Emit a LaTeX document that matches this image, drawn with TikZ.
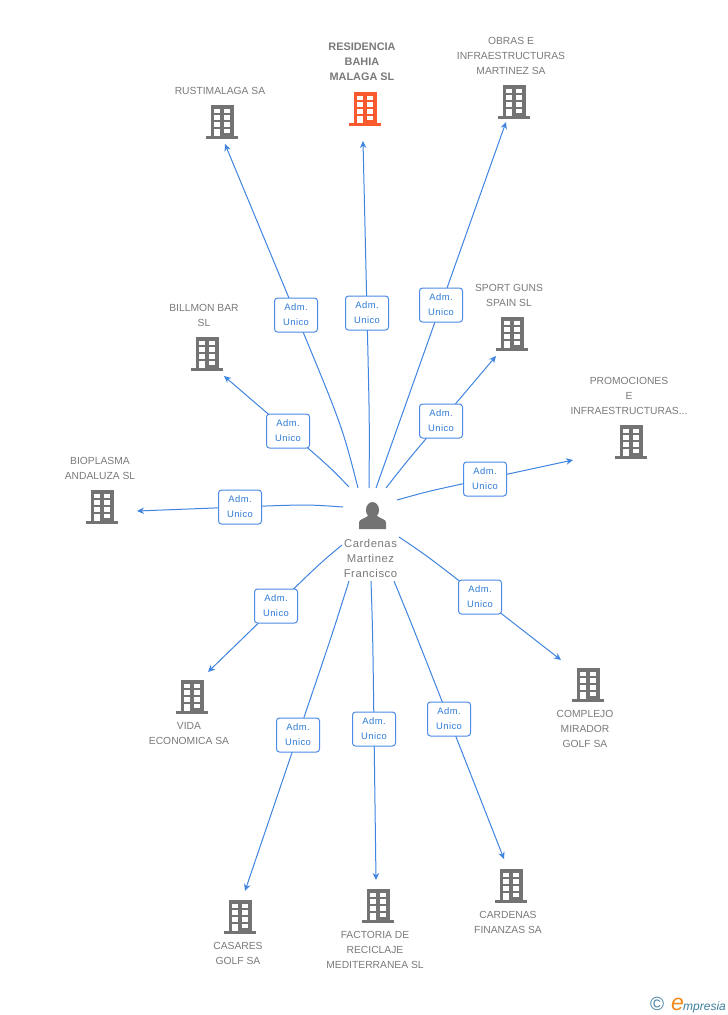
\documentclass[tikz,border=0pt]{standalone}
\usepackage{fontspec}
\setmainfont{Liberation Sans}
\usetikzlibrary{arrows.meta,backgrounds,calc}
\definecolor{txtgray}{HTML}{7A7A7A}
\definecolor{icongray}{HTML}{737373}
\definecolor{iconred}{HTML}{F95B2E}
\definecolor{linkblue}{HTML}{3F84E0}
\definecolor{boxblue}{HTML}{4C8BE6}
\definecolor{adm}{HTML}{2F7BD6}
\definecolor{logoblue}{HTML}{3F7F9F}
\definecolor{logoorange}{HTML}{F08A1D}
\newcommand{\bldicon}[1]{%
  \fill[#1] (-11.5,-17) rectangle (11.5,14);
  \fill[#1] (-16,14) rectangle (16,17);
  \foreach \yy in {-13.5,-7,0}{
    \fill[white] (-8,\yy) rectangle (-2.5,{\yy+4.5});
    \fill[white] (2,\yy) rectangle (7.5,{\yy+4.5});}
  \fill[white] (2,6.5) rectangle (7.5,11);
  \fill[white] (-8,6.5) rectangle (-2.5,14);
}
\tikzset{
  x=1pt,y=-1pt,
  building/.style={minimum width=32pt,minimum height=34pt,inner sep=0pt,
    path picture={\begin{scope}[shift={(path picture bounding box.center)}]\bldicon{#1}\end{scope}}},
  building/.default=icongray,
  lbl/.style={font=\fontsize{10.3}{15}\selectfont,text=txtgray,align=center,inner sep=0pt},
  admbox/.style={draw=boxblue,fill=white,line width=1pt,rounded corners=3pt,minimum width=43pt,minimum height=34pt,
    inner sep=0pt,align=center,text=adm,font=\fontsize{9.4}{15}\selectfont\addfontfeature{LetterSpace=5}},
  conn/.style={draw=linkblue,line width=1pt,-{Stealth[length=7pt,width=6.5pt]}},
}
\newcommand{\link}[3]{%
  \path[conn] (#1) .. controls ($(#2)!-0.65!(#3)$) .. (#2) -- (#3);}
\begin{document}
\begin{tikzpicture}
\useasboundingbox (0,0) rectangle (728,1015);
% companies
\node[building] (c1) at (222,122) {};
\node[building=iconred] (c2) at (365,109) {};
\node[building] (c3) at (514,102) {};
\node[building] (c4) at (512,334) {};
\node[building] (c5) at (631,442) {};
\node[building] (c6) at (588,685) {};
\node[building] (c7) at (511,886) {};
\node[building] (c8) at (378,906) {};
\node[building] (c9) at (240,917) {};
\node[building] (c10) at (192,697) {};
\node[building] (c11) at (102,507) {};
\node[building] (c12) at (207,354) {};
% company names
\node[lbl] (t1) at (220,91) {RUSTIMALAGA SA};
\node[lbl,font=\fontsize{10.9}{15}\selectfont\bfseries] (t2) at (362,62) {RESIDENCIA\\BAHIA\\MALAGA SL};
\node[lbl] (t3) at (511,56) {OBRAS E\\INFRAESTRUCTURAS\\MARTINEZ SA};
\node[lbl] (t4) at (509,295.5) {SPORT GUNS\\SPAIN SL};
\node[lbl] (t5) at (629,396) {PROMOCIONES\\E\\INFRAESTRUCTURAS...};
\node[lbl] (t6) at (585,729) {COMPLEJO\\MIRADOR\\GOLF SA};
\node[lbl] (t7) at (508,922) {CARDENAS\\FINANZAS SA};
\node[lbl] (t8) at (375,950) {FACTORIA DE\\RECICLAJE\\MEDITERRANEA SL};
\node[lbl] (t9) at (238,953.5) {CASARES\\GOLF SA};
\node[lbl] (t10) at (189,733.5) {VIDA\\ECONOMICA SA};
\node[lbl] (t11) at (100,468.5) {BIOPLASMA\\ANDALUZA SL};
\node[lbl] (t12) at (204,315.5) {BILLMON BAR\\SL};
% person
\node[minimum width=28pt,minimum height=28pt,inner sep=0pt,
  path picture={\begin{scope}[shift={(path picture bounding box.center)}]
    \fill[icongray] (0,-5.5) ellipse (6.5 and 8);
    \fill[icongray] (-13.5,13.5) -- (-13.5,7) .. controls (-13.5,3.5) and (-8,3.5) .. (-4,0) -- (4,0) .. controls (8,3.5) and (13.5,3.5) .. (13.5,7) -- (13.5,13.5) -- cycle;
  \end{scope}}] (person) at (372.5,515.5) {};
\node[lbl,font=\fontsize{11.3}{15}\selectfont\addfontfeature{LetterSpace=5}] (pname) at (370.5,558) {Cardenas\\Martinez\\Francisco};
% labels
\node[admbox] (a1) at (296,315) {Adm.\\Unico};
\node[admbox] (a2) at (367,313) {Adm.\\Unico};
\node[admbox] (a3) at (441,305) {Adm.\\Unico};
\node[admbox] (a4) at (441,421) {Adm.\\Unico};
\node[admbox] (a5) at (485,479) {Adm.\\Unico};
\node[admbox] (a6) at (480,597) {Adm.\\Unico};
\node[admbox] (a7) at (449,719) {Adm.\\Unico};
\node[admbox] (a8) at (374,729) {Adm.\\Unico};
\node[admbox] (a9) at (298,735) {Adm.\\Unico};
\node[admbox] (a10) at (276,606) {Adm.\\Unico};
\node[admbox] (a11) at (240,507) {Adm.\\Unico};
\node[admbox] (a12) at (288,431) {Adm.\\Unico};
% connector ends
\coordinate (s1) at (358,488); \coordinate (e1) at (225,144);
\coordinate (s2) at (369,488); \coordinate (e2) at (363,141);
\coordinate (s3) at (376,488); \coordinate (e3) at (506,122);
\coordinate (s4) at (386,488); \coordinate (e4) at (496,356);
\coordinate (s5) at (397,500); \coordinate (e5) at (573,460);
\coordinate (s6) at (399,537); \coordinate (e6) at (561,660);
\coordinate (s7) at (394,581); \coordinate (e7) at (504,859);
\coordinate (s8) at (371,581); \coordinate (e8) at (376,880);
\coordinate (s9) at (349,581); \coordinate (e9) at (245,891);
\coordinate (s10) at (342,545); \coordinate (e10) at (208,672);
\coordinate (s11) at (343,507); \coordinate (e11) at (137,511);
\coordinate (s12) at (349,487); \coordinate (e12) at (224,376);
\begin{pgfonlayer}{background}
\fill[white] (0,0) rectangle (728,1015);
\foreach \i in {1,...,12}{\link{s\i}{a\i.center}{e\i}}
\end{pgfonlayer}
% logo
\node[inner sep=0pt,text=logoblue,font=\fontsize{19}{19}\selectfont] (copy) at (657,1004) {©};
\node[inner sep=0pt,anchor=base west,text=logoorange,font=\fontsize{23}{23}\selectfont\itshape] (logoe) at (671,1010) {e};
\node[inner sep=0pt,anchor=base west,text=logoblue,font=\fontsize{12}{12}\selectfont\itshape] (logot) at (683,1010) {mpresia};
\end{tikzpicture}
\end{document}
